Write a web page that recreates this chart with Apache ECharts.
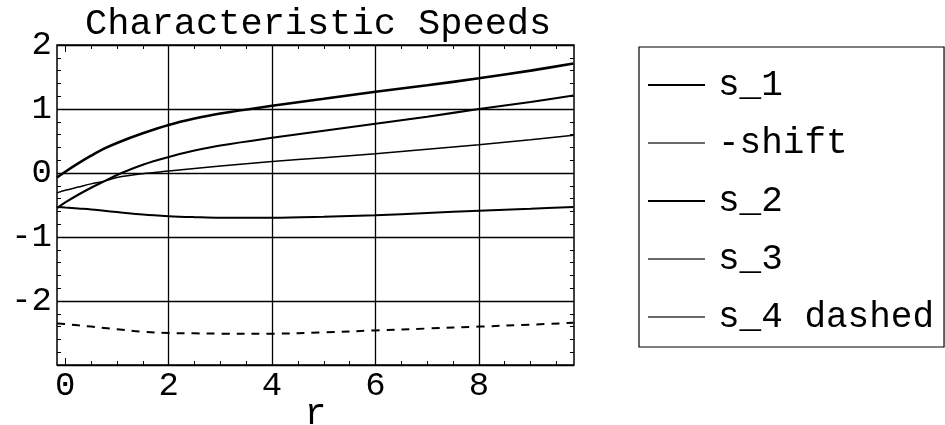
<!DOCTYPE html>
<html>
<head>
<meta charset="utf-8">
<script src="https://cdn.jsdelivr.net/npm/echarts@6/dist/echarts.min.js"></script>
<style>
  html, body { margin: 0; padding: 0; background: #fff; }
  #chart { width: 945px; height: 425px; }
</style>
</head>
<body>
<div id="chart"></div>
<script>
// radius samples shared by every curve
const r = [-0.16, 0, 0.25, 0.5, 0.75, 1, 1.5, 2, 2.5, 3, 4, 5, 6, 7, 8, 9, 9.83];

// characteristic speeds
const s1    = [-0.07, 0.02, 0.15, 0.27, 0.38, 0.47, 0.62, 0.75, 0.85, 0.93, 1.05, 1.16, 1.27, 1.37, 1.48, 1.60, 1.71];
const s2    = [-0.55, -0.46, -0.34, -0.23, -0.13, -0.03, 0.13, 0.25, 0.35, 0.43, 0.55, 0.66, 0.77, 0.88, 1.00, 1.11, 1.21];
const shift = [-0.31, -0.27, -0.22, -0.17, -0.13, -0.07, -0.01, 0.03, 0.07, 0.11, 0.18, 0.24, 0.30, 0.37, 0.44, 0.52, 0.59];
const s3    = [-0.53, -0.54, -0.555, -0.57, -0.59, -0.61, -0.65, -0.675, -0.69, -0.70, -0.70, -0.685, -0.66, -0.625, -0.59, -0.56, -0.53];
const s4    = [-2.35, -2.36, -2.38, -2.40, -2.42, -2.44, -2.48, -2.50, -2.505, -2.51, -2.51, -2.49, -2.46, -2.43, -2.40, -2.37, -2.34];

// axis ticks
const xMajor = [0, 2, 4, 6, 8];
const xMinor = [0.5, 1, 1.5, 2.5, 3, 3.5, 4.5, 5, 5.5, 6.5, 7, 7.5, 8.5, 9, 9.5];
const xGridLines = [2, 4, 6, 8];
const yMajor = [-2, -1, 0, 1, 2];

const legendOrder = ['s_1', '-shift', 's_2', 's_3', 's_4 dashed'];
const heavyInLegend = ['s_1', 's_2'];

const FONT = '"Courier New", Courier, "Nimbus Mono PS", "Liberation Mono", monospace';
const pairs = ys => r.map((x, i) => [x, ys[i]]);

const X_MIN = -0.16, X_MAX = 9.84;

function frameX(position, ticks, len) {
  return {
    type: 'value', position, min: X_MIN, max: X_MAX,
    axisLine: { show: false, onZero: false },
    axisLabel: { show: false },
    splitLine: { show: false },
    axisTick: { show: true, inside: true, length: len, customValues: ticks,
                lineStyle: { color: '#000', width: 1 } }
  };
}

const chart = echarts.init(document.getElementById('chart'), null, { renderer: 'canvas' });

const lineSeries = (name, ys, width, extra) => Object.assign({
  name, type: 'line', data: pairs(ys), smooth: 0.35, symbol: 'none',
  xAxisIndex: 0, yAxisIndex: 0,
  lineStyle: { color: '#000', width }
}, extra || {});

chart.setOption({
  animation: false,
  backgroundColor: '#fff',
  title: {
    text: 'Characteristic Speeds',
    left: 85, top: 6, padding: 0,
    textStyle: { fontFamily: FONT, fontSize: 37, fontWeight: 'normal', color: '#000' }
  },
  grid: {
    left: 57, top: 45, right: 371, bottom: 60,
    outerBoundsMode: 'none', containLabel: false,
    show: true, borderColor: '#000', borderWidth: 1.5, backgroundColor: 'transparent'
  },
  legend: {
    orient: 'vertical', left: 639, top: 47,
    padding: [20, 10, 12, 9],
    itemGap: 22, itemWidth: 57, itemHeight: 2,
    borderColor: '#000', borderWidth: 1.2,
    icon: 'rect',
    textStyle: { fontFamily: FONT, fontSize: 36, color: '#000', lineHeight: 36, padding: [0, 0, 0, 8] },
    data: legendOrder.map(n => ({
      name: n,
      itemStyle: { color: heavyInLegend.indexOf(n) >= 0 ? '#000' : '#6a6a6a' }
    }))
  },
  xAxis: [
    {
      type: 'value', position: 'bottom', min: X_MIN, max: X_MAX,
      name: 'r', nameLocation: 'middle', nameGap: 31, nameMoveOverlap: false,
      nameTextStyle: { fontFamily: FONT, fontSize: 36, color: '#000' },
      axisLine: { show: false, onZero: false },
      axisTick: { show: true, inside: true, length: 7, customValues: xMajor,
                  lineStyle: { color: '#000', width: 1 } },
      axisLabel: { customValues: xMajor, margin: 4, fontFamily: FONT, fontSize: 34, color: '#000' },
      splitLine: { show: false }
    },
    frameX('bottom', xMinor, 4),
    frameX('top', xMajor, 7),
    frameX('top', xMinor, 4)
  ],
  yAxis: [
    {
      type: 'value', position: 'left', min: -3, max: 2, interval: 1,
      axisLine: { show: false, onZero: false },
      axisTick: { show: true, inside: true, length: 7, lineStyle: { color: '#000', width: 1 } },
      minorTick: { show: true, splitNumber: 5, length: 4, lineStyle: { color: '#000', width: 1 } },
      axisLabel: {
        margin: 5, fontFamily: FONT, fontSize: 34, color: '#000',
        formatter: v => (yMajor.indexOf(v) >= 0 ? String(v) : '')
      },
      splitLine: { show: true, lineStyle: { color: '#000', width: 1.3 } }
    },
    {
      type: 'value', position: 'right', min: -3, max: 2, interval: 1,
      axisLine: { show: false, onZero: false },
      axisTick: { show: true, inside: true, length: 7, lineStyle: { color: '#000', width: 1 } },
      minorTick: { show: true, splitNumber: 5, length: 4, lineStyle: { color: '#000', width: 1 } },
      axisLabel: { show: false },
      splitLine: { show: false }
    }
  ],
  series: [
    lineSeries('s_1', s1, 2.6, {
      markLine: {
        silent: true, symbol: 'none', label: { show: false },
        lineStyle: { color: '#000', width: 1.3, type: 'solid' },
        data: xGridLines.map(v => ({ xAxis: v }))
      }
    }),
    lineSeries('-shift', shift, 1.5),
    lineSeries('s_2', s2, 2.1),
    lineSeries('s_3', s3, 2.0),
    lineSeries('s_4 dashed', s4, 2.0, { lineStyle: { color: '#000', width: 2, type: [8, 7] } })
  ]
});
</script>
</body>
</html>
